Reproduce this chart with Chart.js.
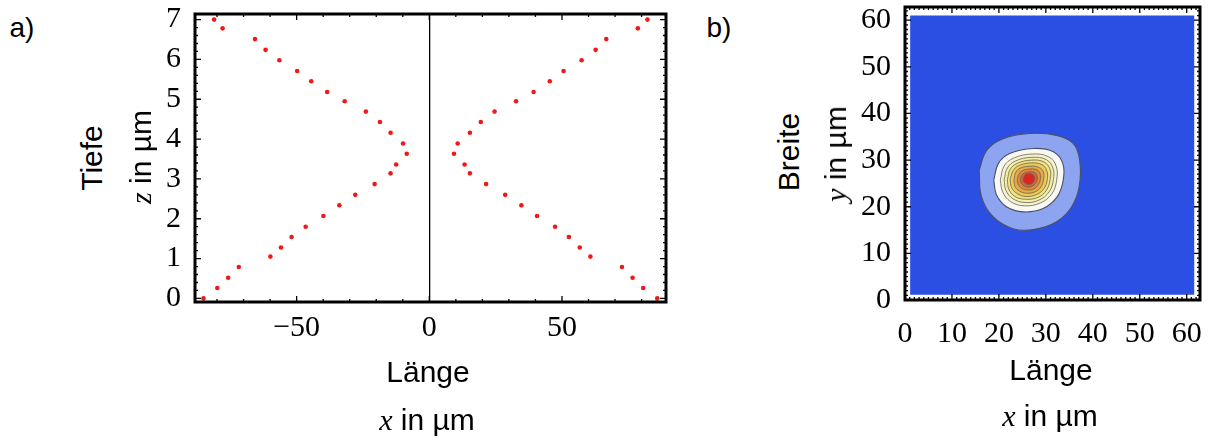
<!DOCTYPE html>
<html>
<head>
<meta charset="utf-8">
<script src="https://cdn.jsdelivr.net/npm/chart.js@4.4.1/dist/chart.umd.min.js"></script>
<style>
body { margin: 0; background: #fff; width: 1208px; height: 439px; position: relative; overflow: hidden; }
canvas { position: absolute; }
.t { position: absolute; white-space: nowrap; line-height: 1; transform: translate(-50%, -50%);
     font-family: "Liberation Sans", Arial, sans-serif; font-size: 30px; color: #000; }
.r { transform: translate(-50%, -50%) rotate(-90deg); }
.v { font-family: "Liberation Serif", "Times New Roman", serif; font-style: italic; }
</style>
</head>
<body>
<canvas id="chartA" width="540" height="439" style="left:140px;top:0"></canvas>
<canvas id="chartB" width="388" height="439" style="left:820px;top:0"></canvas>

<div class="t" style="left:22px;top:28px;font-size:28px">a)</div>
<div class="t" style="left:719px;top:28px;font-size:28px">b)</div>

<div class="t r" style="left:92px;top:158px">Tiefe</div>
<div class="t r" style="left:141px;top:157px"><span class="v">z</span> in µm</div>
<div class="t" style="left:428px;top:372px">Länge</div>
<div class="t" style="left:427px;top:420px"><span class="v">x</span> in µm</div>

<div class="t r" style="left:789px;top:152px">Breite</div>
<div class="t r" style="left:836px;top:154px"><span class="v">y</span> in µm</div>
<div class="t" style="left:1051px;top:370px">Länge</div>
<div class="t" style="left:1050px;top:416px"><span class="v">x</span> in µm</div>

<script>
// a) depth profile, one row per depth step, two branches
const depthZ = [7.00, 6.78, 6.51, 6.24, 5.98, 5.71, 5.45, 5.18, 4.95, 4.69, 4.43, 4.16, 3.89, 3.63,
                3.36, 3.14, 2.87, 2.60, 2.34, 2.07, 1.80, 1.54, 1.28, 1.05, 0.79, 0.52, 0.26, 0.00];
const leftX = [-81.1, -77.9, -65.7, -61.7, -56.5, -49.8, -44.5, -38.5, -31.9, -23.9, -18.6, -14.6, -9.9, -8.5,
               -12.5, -14.6, -20.6, -27.9, -33.9, -39.9, -46.6, -51.9, -55.9, -59.9, -71.8, -75.8, -79.9, -85.1];
const rightX = [82.2, 78.6, 66.7, 62.7, 57.4, 50.6, 45.4, 39.3, 32.7, 24.6, 19.4, 15.3, 10.7, 9.3,
                13.3, 15.3, 21.4, 28.6, 34.7, 40.6, 47.4, 52.6, 56.7, 60.7, 72.6, 76.6, 80.6, 85.9];
const xTicksA = [-50, 0, 50];
const zTicksA = [0, 1, 2, 3, 4, 5, 6, 7];

// b) contour rings (x, y in µm), outermost first
const fieldX = [1.1, 61.6];
const fieldY = [1.1, 61.0];
const ringOuter = [[15.8,27.8],[17.4,32.1],[20.9,34.6],[26.6,35.7],[32.3,35.3],[35.8,33.6],[37.2,30.0],
                   [37.1,24.3],[35.5,20.0],[32.3,16.8],[27.3,15.1],[23.0,15.3],[18.8,17.8],[16.3,22.1]];
const ringWhite = [[18.9,25.7],[19.9,29.3],[22.3,31.4],[27.3,32.5],[31.6,31.8],[33.6,29.3],
                   [33.7,25.7],[32.4,22.1],[29.4,19.6],[25.2,18.9],[21.6,20.0],[19.5,22.5]];
const ringCream = [[20.3,25.7],[21.1,28.7],[23.1,30.4],[27.1,31.3],[30.6,30.7],[32.2,28.7],
                   [32.3,25.7],[31.3,22.8],[28.8,20.8],[25.4,20.2],[22.5,21.1],[20.8,23.2]];
const ringPale = [[21.1,25.8],[21.8,28.3],[23.5,29.8],[27.0,30.6],[30.1,30.1],[31.5,28.3],
                  [31.6,25.8],[30.7,23.2],[28.5,21.4],[25.6,20.9],[23.0,21.7],[21.5,23.5]];
const ringYellow = [[21.8,25.8],[22.4,28.0],[23.9,29.3],[27.0,30.0],[29.6,29.6],[30.9,28.0],
                    [30.9,25.8],[30.1,23.5],[28.3,22.0],[25.7,21.6],[23.4,22.2],[22.1,23.8]];
const ringGold = [[22.4,25.8],[23.0,27.7],[24.2,28.8],[26.9,29.4],[29.2,29.0],[30.2,27.7],
                  [30.3,25.8],[29.6,23.9],[28.0,22.6],[25.8,22.2],[23.9,22.8],[22.7,24.1]];
const ringAmber = [[23.2,25.8],[23.6,27.4],[24.6,28.3],[26.8,28.7],[28.6,28.4],[29.5,27.4],
                   [29.5,25.8],[29.0,24.3],[27.7,23.2],[25.9,22.9],[24.3,23.4],[23.4,24.4]];
const ringOrange = [[23.9,25.8],[24.3,27.0],[25.0,27.7],[26.7,28.1],[28.1,27.9],[28.8,27.0],
                    [28.8,25.8],[28.4,24.7],[27.4,23.8],[26.0,23.6],[24.8,24.0],[24.1,24.8]];
const ringDeep = [[24.6,25.9],[24.8,26.7],[25.4,27.2],[26.6,27.5],[27.7,27.3],[28.1,26.7],
                  [28.2,25.9],[27.8,25.0],[27.1,24.4],[26.1,24.2],[25.3,24.5],[24.7,25.1]];
const ringRed = [[25.2,25.9],[25.4,26.6],[25.8,27.0],[26.5,27.1],[27.2,26.9],[27.6,26.4],
                 [27.6,25.8],[27.3,25.2],[26.7,24.8],[26.0,24.8],[25.5,25.1],[25.2,25.4]];
const xyTicksB = [0, 10, 20, 30, 40, 50, 60];

const rings = [ringOuter, ringWhite, ringCream, ringPale, ringYellow, ringGold, ringAmber, ringOrange, ringDeep, ringRed];
const ringColors = ['#8da5f1', '#f8f8f4', '#f6f3d2', '#f4eeac', '#f0e27e', '#ecc95c', '#e6a848', '#de893b', '#d06737', '#dc2424'];

const serif = { family: '"Liberation Serif", "Times New Roman", serif', size: 30 };
const fmt = v => v < 0 ? '\u2212' + (-v) : String(v);

// black frame with inward ticks on all four sides
const framePlugin = {
  id: 'frame',
  afterDatasetsDraw(chart, args, o) {
    const { ctx, chartArea: a, scales: { x, y } } = chart;
    const isMajor = (s, v) => s.ticks.some(t => Math.abs(t.value - v) < 1e-6);
    ctx.save();
    ctx.strokeStyle = '#000';
    ctx.lineWidth = 1.3;
    ctx.beginPath();
    let start = Math.ceil(x.min / o.xStep);
    for (let i = start; i * o.xStep <= x.max; i++) {
      const v = i * o.xStep, p = x.getPixelForValue(v);
      const len = isMajor(x, v) ? o.major : o.minor;
      ctx.moveTo(p, a.bottom); ctx.lineTo(p, a.bottom - len);
      ctx.moveTo(p, a.top); ctx.lineTo(p, a.top + len);
    }
    start = Math.ceil(y.min / o.yStep);
    for (let i = start; i * o.yStep <= y.max + 1e-9; i++) {
      const v = i * o.yStep, p = y.getPixelForValue(v);
      const len = isMajor(y, v) ? o.major : o.minor;
      ctx.moveTo(a.left, p); ctx.lineTo(a.left + len, p);
      ctx.moveTo(a.right, p); ctx.lineTo(a.right - len, p);
    }
    ctx.stroke();
    ctx.lineWidth = 3;
    ctx.strokeRect(a.left, a.top, a.right - a.left, a.bottom - a.top);
    ctx.restore();
  }
};

function axis(min, max, tickList, size, horizontal, extra) {
  return Object.assign({
    type: 'linear', min: min, max: max,
    afterBuildTicks: s => { s.ticks = tickList.map(v => ({ value: v })); },
    afterFit: s => {
      if (horizontal) s.height = size; else s.width = size;
      // keep the plot box where the reference has it
      s.paddingTop = 0; s.paddingBottom = 0; s.paddingLeft = 0; s.paddingRight = 0;
    },
    ticks: { font: serif, color: '#000', padding: horizontal ? 8 : 6, autoSkip: false, maxRotation: 0, includeBounds: false, callback: fmt },
    grid: { display: false },
    border: { display: false }
  }, extra || {});
}

new Chart(document.getElementById('chartA'), {
  type: 'scatter',
  data: {
    datasets: [
      { data: leftX.map((v, i) => ({ x: v, y: depthZ[i] })) },
      { data: rightX.map((v, i) => ({ x: v, y: depthZ[i] })) }
    ]
  },
  options: {
    responsive: false, animation: false, events: [],
    layout: { padding: { top: 14, right: 14, left: 0, bottom: 0 } },
    elements: { point: { radius: 2.3, borderWidth: 0, backgroundColor: '#f01818' } },
    scales: {
      x: axis(-88.3, 89.2, xTicksA, 137, true, {
        grid: { drawTicks: false, lineWidth: 1.3, color: c => c.tick && c.tick.value === 0 ? '#000' : 'rgba(0,0,0,0)' }
      }),
      y: axis(-0.09, 7.14, zTicksA, 55, false)
    },
    plugins: { legend: { display: false }, tooltip: { enabled: false },
               frame: { xStep: 10, yStep: 0.2, minor: 3, major: 6 } }
  },
  plugins: [framePlugin]
});

const closed = pts => pts.concat([pts[0]]).map(p => ({ x: p[0], y: p[1] }));
const field = [[fieldX[0], fieldY[0]], [fieldX[1], fieldY[0]], [fieldX[1], fieldY[1]], [fieldX[0], fieldY[1]]];

const contourSets = [{
  data: closed(field), showLine: true, fill: 'shape', tension: 0, pointRadius: 0,
  borderWidth: 0, backgroundColor: '#2c4fe3', order: 100
}].concat(rings.map((r, i) => ({
  data: closed(r), showLine: true, fill: 'shape', tension: 0.4, pointRadius: 0,
  borderWidth: i < 2 ? 1.1 : 0.8, borderColor: i < 2 ? '#4a4f66' : '#6b6450',
  backgroundColor: ringColors[i], order: 99 - i
})));

new Chart(document.getElementById('chartB'), {
  type: 'scatter',
  data: { datasets: contourSets },
  options: {
    responsive: false, animation: false, events: [],
    layout: { padding: { top: 7, right: 8, left: 0, bottom: 0 } },
    scales: {
      x: axis(0, 62.83, xyTicksB, 139, true),
      y: axis(0, 62.83, xyTicksB, 85, false)
    },
    plugins: { legend: { display: false }, tooltip: { enabled: false },
               frame: { xStep: 1, yStep: 1, minor: 3, major: 6 } }
  },
  plugins: [framePlugin]
});
</script>
</body>
</html>
